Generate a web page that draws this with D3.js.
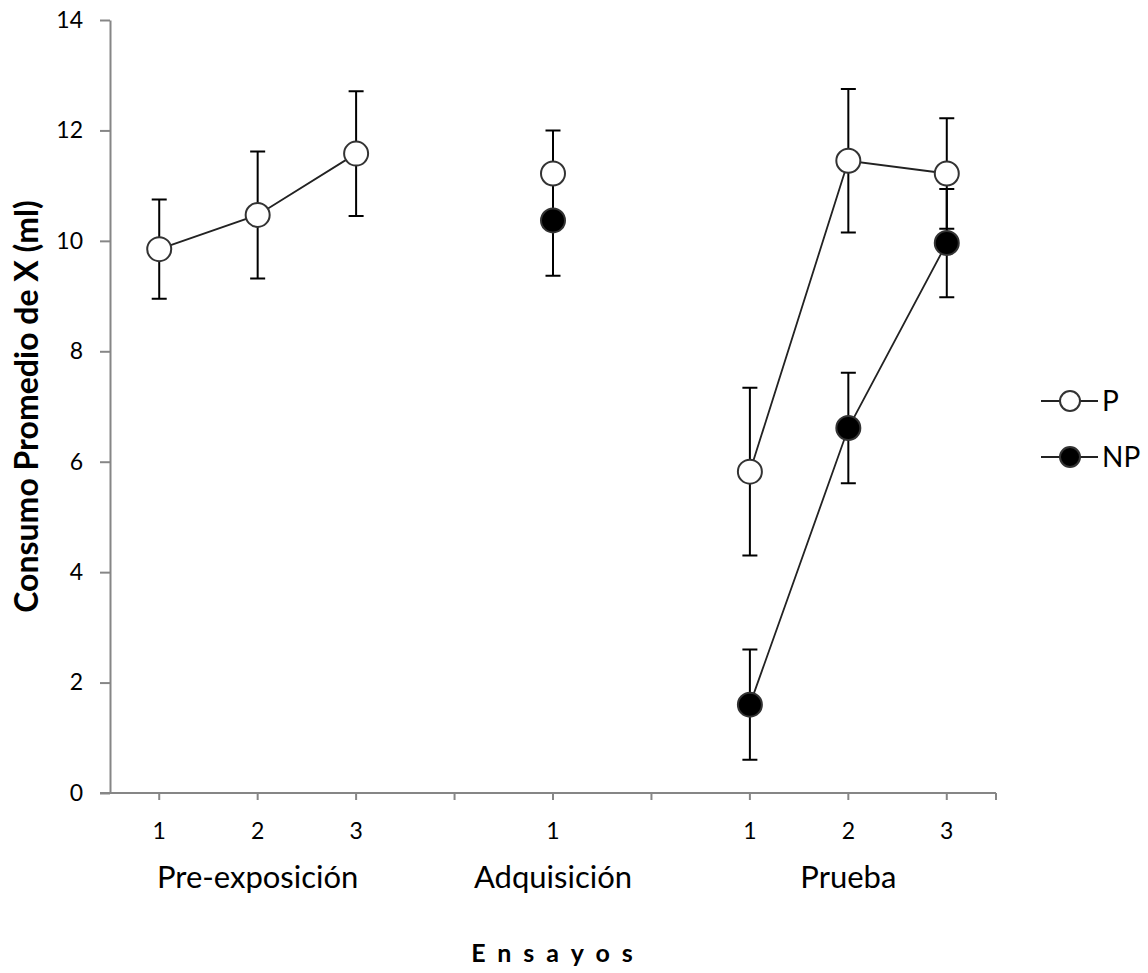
<!DOCTYPE html>
<html>
<head>
<meta charset="utf-8">
<script src="https://cdn.jsdelivr.net/npm/d3@7"></script>
<style>
  body { margin: 0; background: #fff; }
  text { font-family: Lato, "Open Sans", sans-serif; }
</style>
</head>
<body>
<script>
// categories along the x axis (empty slots separate the phases)
var categories = ["pre1", "pre2", "pre3", "gapA", "adq1", "gapB", "pru1", "pru2", "pru3"];
var tickLabels = ["1", "2", "3", "", "1", "", "1", "2", "3"];
var groupNames = ["Pre-exposición", "Adquisición", "Prueba"];
var groupCenters = ["pre2", "adq1", "pru2"];
var yTicks = [0, 2, 4, 6, 8, 10, 12, 14];

// group P (open circles)
var pMeans = [9.85, 10.47, 11.58, null, 11.22, null, 5.82, 11.45, 11.22];
var pErr   = [0.90, 1.15, 1.13, null, 0.78, null, 1.52, 1.30, 1.00];
// group NP (filled circles)
var npMeans = [null, null, null, null, 10.37, null, 1.60, 6.61, 9.96];
var npErr   = [null, null, null, null, 1.00, null, 1.00, 1.00, 0.98];

var w = 1148;
var h = 973;
var plotLeft = 110, plotRight = 996, plotTop = 20, plotBottom = 793;

var svg = d3.select("body")
    .append("svg")
    .attr("width", w)
    .attr("height", h);

var x = d3.scaleBand()
    .domain(categories)
    .range([plotLeft, plotRight])
    .padding(0);

var y = d3.scaleLinear()
    .domain([0, 14])
    .range([plotBottom, plotTop]);

var axisColor = "#868686";

// y axis
var yAxis = svg.append("g")
    .attr("transform", "translate(" + plotLeft + ",0)")
    .call(d3.axisLeft(y).tickValues(yTicks).tickSize(10).tickPadding(17).tickSizeOuter(0));
yAxis.select(".domain").attr("stroke", axisColor).attr("stroke-width", 2);
yAxis.selectAll(".tick line").attr("stroke", axisColor).attr("stroke-width", 2);
yAxis.selectAll(".tick text")
    .attr("fill", "#000")
    .style("font-size", "23px")
    .style("font-family", "Lato, sans-serif");

// x axis
var xAxis = svg.append("g")
    .attr("transform", "translate(0," + plotBottom + ")")
    .call(d3.axisBottom(x)
        .tickSize(7)
        .tickPadding(23)
        .tickSizeOuter(0)
        .tickFormat(function(d, i) { return tickLabels[i]; }));
xAxis.select(".domain").remove();
xAxis.append("line")
    .attr("x1", plotLeft - 10)
    .attr("x2", plotRight)
    .attr("stroke", axisColor)
    .attr("stroke-width", 2);
xAxis.append("line")
    .attr("x1", plotRight)
    .attr("x2", plotRight)
    .attr("y2", 7)
    .attr("stroke", axisColor)
    .attr("stroke-width", 2);
xAxis.selectAll(".tick line").attr("stroke", axisColor).attr("stroke-width", 2);
xAxis.selectAll(".tick text")
    .attr("fill", "#000")
    .style("font-size", "23px")
    .style("font-family", "Lato, sans-serif");

// phase labels
svg.selectAll(".group")
    .data(groupNames)
    .enter()
    .append("text")
    .attr("class", "group")
    .attr("x", function(d, i) { return x(groupCenters[i]) + x.bandwidth() / 2; })
    .attr("y", 888)
    .attr("text-anchor", "middle")
    .style("font-size", "31px")
    .text(function(d) { return d; });

// axis titles
svg.append("text")
    .attr("x", 558)
    .attr("y", 962)
    .attr("text-anchor", "middle")
    .style("font-size", "25px")
    .style("font-weight", "bold")
    .style("letter-spacing", "12px")
    .text("Ensayos");

svg.append("text")
    .attr("transform", "translate(38," + ((plotTop + plotBottom) / 2) + ") rotate(-90)")
    .attr("text-anchor", "middle")
    .style("font-size", "32px")
    .style("font-weight", "bold")
    .text("Consumo Promedio de X (ml)");

function toPoints(means, errs) {
    return categories.map(function(c, i) {
        return { cat: c, v: means[i], e: errs[i] };
    });
}

var series = [
    { name: "P", fill: "#fff", pts: toPoints(pMeans, pErr) },
    { name: "NP", fill: "#000", pts: toPoints(npMeans, npErr) }
];

var cx = function(d) { return x(d.cat) + x.bandwidth() / 2; };

var line = d3.line()
    .defined(function(d) { return d.v != null; })
    .x(cx)
    .y(function(d) { return y(d.v); });

svg.selectAll(".series-line")
    .data(series)
    .enter()
    .append("path")
    .attr("class", "series-line")
    .attr("fill", "none")
    .attr("stroke", "#222")
    .attr("stroke-width", 1.8)
    .attr("d", function(s) { return line(s.pts); });

var cap = 7.5;
series.forEach(function(s) {
    var pts = s.pts.filter(function(d) { return d.v != null; });
    svg.append("g").selectAll("path")
        .data(pts)
        .enter()
        .append("path")
        .attr("fill", "none")
        .attr("stroke", "#000")
        .attr("stroke-width", 2)
        .attr("d", function(d) {
            var xx = cx(d), y1 = y(d.v + d.e), y2 = y(d.v - d.e);
            return "M" + (xx - cap) + "," + y1 + "H" + (xx + cap) +
                   "M" + xx + "," + y1 + "V" + y2 +
                   "M" + (xx - cap) + "," + y2 + "H" + (xx + cap);
        });
});

series.forEach(function(s) {
    var pts = s.pts.filter(function(d) { return d.v != null; });
    svg.append("g").selectAll("circle")
        .data(pts)
        .enter()
        .append("circle")
        .attr("cx", cx)
        .attr("cy", function(d) { return y(d.v); })
        .attr("r", 12)
        .attr("fill", s.fill)
        .attr("stroke", "#333")
        .attr("stroke-width", 2);
});

// legend
var legend = svg.selectAll(".legend")
    .data(series)
    .enter()
    .append("g")
    .attr("class", "legend")
    .attr("transform", function(d, i) { return "translate(1041," + (401 + i * 56) + ")"; });

legend.append("line")
    .attr("x1", 0)
    .attr("x2", 57)
    .attr("stroke", "#222")
    .attr("stroke-width", 1.8);
legend.append("circle")
    .attr("cx", 29)
    .attr("r", 10)
    .attr("fill", function(d) { return d.fill; })
    .attr("stroke", "#333")
    .attr("stroke-width", 2);
legend.append("text")
    .attr("x", 61)
    .attr("y", 10)
    .style("font-size", "28px")
    .text(function(d) { return d.name; });
</script>
</body>
</html>
